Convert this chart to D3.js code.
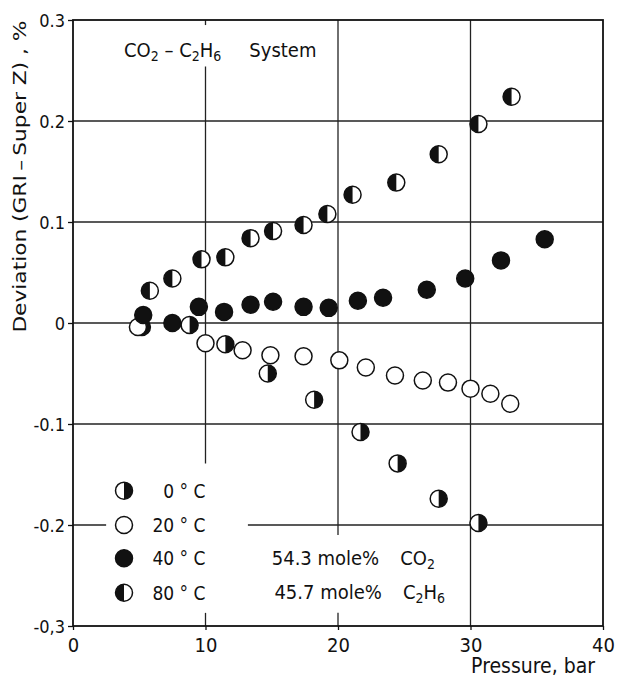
<!DOCTYPE html>
<html>
<head>
<meta charset="utf-8">
<script src="https://cdn.jsdelivr.net/npm/d3@7"></script>
<style>
  body { margin: 0; background: #fff; }
  text { font-family: "DejaVu Sans Condensed", "Liberation Sans Narrow", "DejaVu Sans", sans-serif; fill: #111; }
</style>
</head>
<body>
<div id="d3-container"></div>
<script>
/* DATA */
const pressure0 = [5.2, 8.8, 11.5, 14.7, 18.2, 21.7, 24.5, 27.6, 30.6];
const dev0 = [-0.004, -0.002, -0.021, -0.050, -0.076, -0.108, -0.139, -0.174, -0.198];

const pressure20 = [4.9, 10.0, 12.8, 14.9, 17.4, 20.1, 22.1, 24.3, 26.4, 28.3, 30.0, 31.5, 33.0];
const dev20 = [-0.004, -0.020, -0.027, -0.032, -0.033, -0.037, -0.044, -0.052, -0.057, -0.059, -0.065, -0.070, -0.080];

const pressure40 = [5.3, 7.5, 9.5, 11.4, 13.4, 15.1, 17.4, 19.3, 21.5, 23.4, 26.7, 29.6, 32.3, 35.6];
const dev40 = [0.008, 0.000, 0.016, 0.011, 0.018, 0.021, 0.016, 0.015, 0.022, 0.025, 0.033, 0.044, 0.062, 0.083];

const pressure80 = [5.8, 7.5, 9.7, 11.5, 13.4, 15.1, 17.4, 19.2, 21.1, 24.4, 27.6, 30.6, 33.1];
const dev80 = [0.032, 0.044, 0.063, 0.065, 0.084, 0.091, 0.097, 0.108, 0.127, 0.139, 0.167, 0.197, 0.224];

const xTicks = [0, 10, 20, 30, 40];
const yTicks = [0.3, 0.2, 0.1, 0, -0.1, -0.2, -0.3];
const yTickLabels = ["0.3", "0.2", "0.1", "0", "-0.1", "-0.2", "-0,3"];
const legendLabels = ["0 \u00B0 C", "20 \u00B0 C", "40 \u00B0 C", "80 \u00B0 C"];
const legendKinds = ["right", "open", "filled", "left"];

/* CONSTANTS */
const width = 619, height = 678;
const margin = { top: 20, right: 16, bottom: 52, left: 73 };
const r = 8.5;

const svg = d3.select("#d3-container")
  .append("svg")
  .attr("width", width)
  .attr("height", height);

const xScale = d3.scaleLinear().domain([0, 40]).range([margin.left, width - margin.right]);
const yScale = d3.scaleLinear().domain([-0.3, 0.3]).range([height - margin.bottom, margin.top]);

// gridlines, with the gaps left for the text blocks
const vGrid = [
  { x: 10, from: 0.3, to: 0.295 },
  { x: 10, from: 0.254, to: -0.139 },
  { x: 10, from: -0.287, to: -0.3 },
  { x: 20, from: 0.3, to: -0.21 },
  { x: 20, from: -0.287, to: -0.3 },
  { x: 30, from: 0.3, to: -0.3 }
];
const hGrid = [
  { y: 0.2, from: 0, to: 40 },
  { y: 0.1, from: 0, to: 40 },
  { y: 0, from: 0, to: 40 },
  { y: -0.1, from: 0, to: 40 },
  { y: -0.2, from: 0, to: 2.5 },
  { y: -0.2, from: 13.2, to: 40 }
];

const grid = svg.append("g").attr("stroke", "#222").attr("stroke-width", 1.3);
grid.selectAll(".vg").data(vGrid).join("line")
  .attr("x1", d => xScale(d.x)).attr("x2", d => xScale(d.x))
  .attr("y1", d => yScale(d.from)).attr("y2", d => yScale(d.to));
grid.selectAll(".hg").data(hGrid).join("line")
  .attr("y1", d => yScale(d.y)).attr("y2", d => yScale(d.y))
  .attr("x1", d => xScale(d.from)).attr("x2", d => xScale(d.to));

// frame
svg.append("rect")
  .attr("x", xScale(0)).attr("y", yScale(0.3))
  .attr("width", xScale(40) - xScale(0))
  .attr("height", yScale(-0.3) - yScale(0.3))
  .attr("fill", "none").attr("stroke", "#111").attr("stroke-width", 1.8);

// axes
const yAxis = d3.axisLeft(yScale)
  .tickValues(yTicks)
  .tickSize(5)
  .tickPadding(3)
  .tickFormat((d, i) => yTickLabels[i]);
const yAxisGroup = svg.append("g")
  .attr("transform", `translate(${margin.left}, 0)`)
  .call(yAxis);
yAxisGroup.select(".domain").remove();
yAxisGroup.selectAll("line").attr("stroke", "#111").attr("stroke-width", 1.3);
yAxisGroup.selectAll("text").attr("font-size", 18).attr("font-family", null).attr("dy", "0.36em");

const xAxis = d3.axisBottom(xScale)
  .tickValues(xTicks)
  .tickSize(4)
  .tickPadding(8);
const xAxisGroup = svg.append("g")
  .attr("transform", `translate(0, ${height - margin.bottom})`)
  .call(xAxis);
xAxisGroup.select(".domain").remove();
xAxisGroup.selectAll("line").attr("stroke", "#111").attr("stroke-width", 1.3);
xAxisGroup.selectAll("text").attr("font-size", 20).attr("font-family", null);

// axis titles
svg.append("text")
  .attr("transform", `translate(26, ${yScale(-0.0095)}) rotate(-90)`)
  .attr("font-size", 18)
  .attr("textLength", 312)
  .attr("lengthAdjust", "spacingAndGlyphs")
  .text("Deviation (GRI\u2009\u2013\u2009Super Z) ,  %");

svg.append("text")
  .attr("x", xScale(40) - 8)
  .attr("y", height - 5)
  .attr("text-anchor", "end")
  .attr("font-size", 21)
  .text("Pressure, bar");

// title with subscripts
const title = svg.append("text")
  .attr("x", xScale(3.85))
  .attr("y", yScale(0.2634))
  .attr("font-size", 20);
title.append("tspan").text("CO");
title.append("tspan").attr("dy", 4).attr("font-size", 14).text("2");
title.append("tspan").attr("dy", -4).text(" \u2013 C");
title.append("tspan").attr("dy", 4).attr("font-size", 14).text("2");
title.append("tspan").attr("dy", -4).text("H");
title.append("tspan").attr("dy", 4).attr("font-size", 14).text("6");
title.append("tspan").attr("dy", -4).attr("dx", 28).text("System");

// composition note
const note1 = svg.append("text")
  .attr("x", xScale(15.0))
  .attr("y", yScale(-0.2395))
  .attr("font-size", 20);
note1.append("tspan").text("54.3 mole%");
note1.append("tspan").attr("dx", 21).text("CO");
note1.append("tspan").attr("dy", 4).attr("font-size", 14).text("2");

const note2 = svg.append("text")
  .attr("x", xScale(15.2))
  .attr("y", yScale(-0.2735))
  .attr("font-size", 20);
note2.append("tspan").text("45.7 mole%");
note2.append("tspan").attr("dx", 21).text("C");
note2.append("tspan").attr("dy", 4).attr("font-size", 14).text("2");
note2.append("tspan").attr("dy", -4).text("H");
note2.append("tspan").attr("dy", 4).attr("font-size", 14).text("6");

/* MARKERS */
function halfPath(side, rad) {
  // side "left" => left half black, "right" => right half black
  const sweep = side === "left" ? 0 : 1;
  return `M0,${-rad} A${rad},${rad} 0 0 ${sweep} 0,${rad} Z`;
}

function drawMarker(g, kind, rad) {
  g.append("circle")
    .attr("r", rad)
    .attr("fill", kind === "filled" ? "#111" : "#fff")
    .attr("stroke", "#111")
    .attr("stroke-width", 1.5);
  if (kind === "left" || kind === "right") {
    g.append("path")
      .attr("d", halfPath(kind, rad))
      .attr("fill", "#111");
  }
}

const series = [
  { kind: "right", px: pressure0, dv: dev0 },
  { kind: "open", px: pressure20, dv: dev20 },
  { kind: "filled", px: pressure40, dv: dev40 },
  { kind: "left", px: pressure80, dv: dev80 }
];

series.forEach(s => {
  const pts = s.px.map((p, i) => ({ p: p, d: s.dv[i] }));
  svg.append("g").selectAll("g")
    .data(pts)
    .join("g")
    .attr("transform", d => `translate(${xScale(d.p)}, ${yScale(d.d)})`)
    .each(function () { drawMarker(d3.select(this), s.kind, r); });
});

/* LEGEND */
const legendY = [-0.166, -0.200, -0.233, -0.267];
const legend = svg.append("g");
legendKinds.forEach((k, i) => {
  const row = legend.append("g")
    .attr("transform", `translate(${xScale(3.85)}, ${yScale(legendY[i])})`);
  drawMarker(row, k, 8.5);
  row.append("text")
    .attr("x", xScale(10) - xScale(3.85))
    .attr("y", 7)
    .attr("text-anchor", "end")
    .attr("font-size", 19)
    .text(legendLabels[i]);
});
</script>
</body>
</html>
